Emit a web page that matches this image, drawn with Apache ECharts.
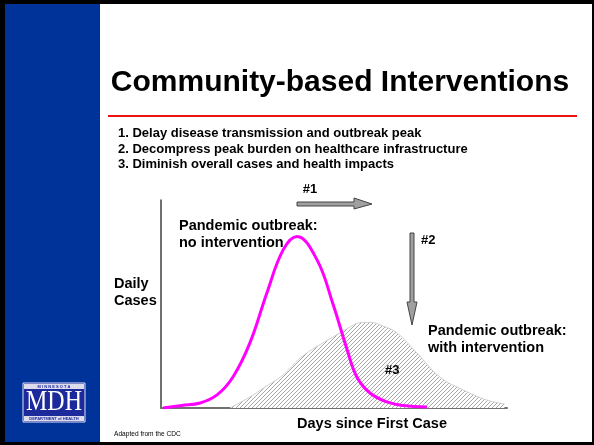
<!DOCTYPE html>
<html>
<head>
<meta charset="utf-8">
<script src="https://cdn.jsdelivr.net/npm/echarts@6/dist/echarts.min.js"></script>
<style>
  html, body { margin: 0; padding: 0; background: #fff; }
  #chart-content { width: 594px; height: 445px; }
</style>
</head>
<body>
<div id="chart-content"></div>
<script>
// curve without intervention (x = days, 0..100 scale; y = daily cases, 0..100 scale)
var noInterventionDays = [0.6, 6, 11.3, 16.2, 20.8, 25.7, 30.6, 35.3, 39.3, 45.1, 49.7, 53.8, 56.6, 60.4, 65.3, 70, 76.9];
var noInterventionCases = [0, 1.2, 2.4, 6.3, 14.9, 31.3, 55.3, 76, 82.5, 71.2, 50, 28, 14.9, 7.2, 2.9, 1.2, 0.5];

// curve with intervention (hatched)
var withInterventionDays = [19.9, 25.7, 30, 35.3, 40.2, 45, 49.7, 54.6, 57.5, 60.5, 64, 68.2, 74, 80.6, 87.3, 94.2, 99.4];
var withInterventionCases = [0, 5.3, 10, 15.9, 24, 29.5, 34.1, 38.9, 41, 41.2, 39.5, 36.1, 26.4, 14.9, 8.7, 3.8, 1.9];

var bullets = [
  "1. Delay disease transmission and outbreak peak",
  "2. Decompress peak burden on healthcare infrastructure",
  "3. Diminish overall cases and health impacts"
];

function zip(xs, ys) {
  return xs.map(function (x, i) { return [x, ys[i]]; });
}

// diagonal hatch pattern
var hatch = document.createElement("canvas");
hatch.width = 4;
hatch.height = 4;
var hc = hatch.getContext("2d");
hc.fillStyle = "#ffffff";
hc.fillRect(0, 0, 4, 4);
hc.strokeStyle = "#a6a6a6";
hc.lineWidth = 1;
hc.beginPath();
hc.moveTo(-1, 5); hc.lineTo(5, -1);
hc.moveTo(-3, 3); hc.lineTo(3, -3);
hc.moveTo(1, 7); hc.lineTo(7, 1);
hc.stroke();

var FONT = "Liberation Sans, Arial, sans-serif";

function label(x, y, text, size, align, weight) {
  return {
    type: "text", x: x, y: y, z: 20,
    style: {
      text: text, fill: "#000", fontFamily: FONT,
      fontSize: size, fontWeight: weight || "bold",
      textAlign: align || "left", textVerticalAlign: "middle"
    }
  };
}

var myChart = echarts.init(document.getElementById("chart-content"));

var graphics = [
  // slide frame
  { type: "rect", z: -10, shape: { x: 5, y: 4, width: 587, height: 438 }, style: { fill: "#fff" } },
  { type: "rect", z: -9, shape: { x: 5, y: 4, width: 95, height: 438 }, style: { fill: "#003399" } },
  // red rule
  { type: "line", z: 5, shape: { x1: 108, y1: 116, x2: 577, y2: 116 }, style: { stroke: "#ee1111", lineWidth: 2 } },
  label(340, 83, "Community-based Interventions", 30, "center"),
  label(118, 133, bullets[0], 13),
  label(118, 149, bullets[1], 13),
  label(118, 164, bullets[2], 13),
  // arrows
  label(310, 189, "#1", 13, "center"),
  {
    type: "polygon", z: 10,
    shape: { points: [[297, 202], [354, 202], [354, 198], [372, 204], [354, 209], [354, 206], [297, 206]] },
    style: { fill: "#a0a0a0", stroke: "#444", lineWidth: 1 }
  },
  label(421, 240, "#2", 13),
  {
    type: "polygon", z: 10,
    shape: { points: [[410, 233], [414, 233], [414, 302], [417, 302], [412, 325], [407, 302], [410, 302]] },
    style: { fill: "#a0a0a0", stroke: "#444", lineWidth: 1 }
  },
  label(179, 226, "Pandemic outbreak:", 14.5),
  label(179, 243, "no intervention", 14.5),
  label(428, 331, "Pandemic outbreak:", 14.5),
  label(428, 348, "with intervention", 14.5),
  label(385, 370, "#3", 13),
  label(114, 284, "Daily", 14.5),
  label(114, 301, "Cases", 14.5),
  label(372, 424, "Days since First Case", 14.5, "center"),
  label(114, 434, "Adapted from the CDC", 6.6, "left", "normal"),
  // MDH logo
  { type: "rect", z: 5, shape: { x: 23, y: 383, width: 62, height: 39 }, style: { fill: "#1c2a9c", stroke: "#dfe3f5", lineWidth: 1 } },
  { type: "rect", z: 6, shape: { x: 24, y: 384, width: 60, height: 5 }, style: { fill: "#dcdcec" } },
  { type: "rect", z: 6, shape: { x: 24, y: 416, width: 60, height: 5 }, style: { fill: "#dcdcec" } },
  {
    type: "text", z: 7, x: 54, y: 386.5,
    style: { text: "M I N N E S O T A", fill: "#1c2a9c", fontFamily: FONT, fontSize: 4, fontWeight: "bold", textAlign: "center", textVerticalAlign: "middle" }
  },
  {
    type: "text", z: 7, x: 54, y: 402, scaleX: 0.8,
    style: { text: "MDH", fill: "#fff", fontFamily: "Liberation Serif, Times New Roman, serif", fontSize: 30, textAlign: "center", textVerticalAlign: "middle" }
  },
  {
    type: "text", z: 7, x: 54, y: 418.5,
    style: { text: "DEPARTMENT of HEALTH", fill: "#1c2a9c", fontFamily: FONT, fontSize: 4, fontWeight: "bold", textAlign: "center", textVerticalAlign: "middle" }
  }
];

var option = {
  backgroundColor: "#000",
  animation: false,
  grid: { left: 161, top: 200, width: 346, height: 208 },
  xAxis: {
    type: "value", min: 0, max: 100,
    axisLine: { show: true, lineStyle: { color: "#707070", width: 2 } },
    axisTick: { show: false }, axisLabel: { show: false }, splitLine: { show: false }
  },
  yAxis: {
    type: "value", min: 0, max: 100,
    axisLine: { show: true, lineStyle: { color: "#404040", width: 1.5 } },
    axisTick: { show: false }, axisLabel: { show: false }, splitLine: { show: false }
  },
  graphic: graphics,
  series: [
    {
      name: "With intervention",
      type: "line",
      smooth: 0.4,
      showSymbol: false,
      z: 2,
      data: zip(withInterventionDays, withInterventionCases),
      lineStyle: { color: "#d0d0d0", width: 1 },
      areaStyle: { color: { image: hatch, repeat: "repeat" }, opacity: 1 }
    },
    {
      name: "No intervention",
      type: "line",
      smooth: 0.4,
      showSymbol: false,
      z: 3,
      data: zip(noInterventionDays, noInterventionCases),
      lineStyle: { color: "#ff00ff", width: 3 }
    }
  ]
};

myChart.setOption(option);
</script>
</body>
</html>
